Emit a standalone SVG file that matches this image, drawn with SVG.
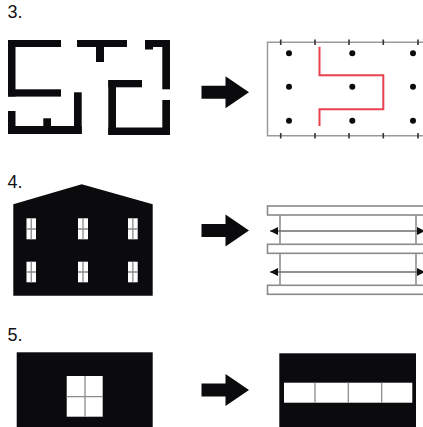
<svg xmlns="http://www.w3.org/2000/svg" width="423" height="427" viewBox="0 0 423 427">
  <style>
    .num { font-family: "Liberation Sans", Arial, sans-serif; font-size: 18px; fill: #111; }
    .ink { fill: #0b0a0c; }
    .grid { fill: none; stroke: #9a9a9a; stroke-width: 1.5; }
    .tick { stroke: #333; stroke-width: 1.6; }
    .dot { fill: #0b0a0c; }
    .route { fill: none; stroke: #e8404f; stroke-width: 2; }
    .slab { fill: #fff; stroke: #8a8a8a; stroke-width: 1.6; }
    .col { stroke: #777; stroke-width: 1.3; }
    .span { stroke: #6d6d6d; stroke-width: 1.6; }
    .pane { fill: #fff; }
    .bar { stroke: #8c8c8c; stroke-width: 1.3; }
  </style>
  <defs>
    <!-- block arrow, tip at origin -->
    <path id="blockArrow" d="M-47.5 -6.5 H-23.5 V-16 L0 0 L-23.5 16 V6.5 H-47.5 Z"/>
    <marker id="headEnd" viewBox="0 0 8 8" refX="8" refY="4" markerWidth="8" markerHeight="8" markerUnits="userSpaceOnUse" orient="auto">
      <path d="M0 0 L8 4 L0 8 Z" fill="#111"/>
    </marker>
    <marker id="headStart" viewBox="0 0 8 8" refX="0" refY="4" markerWidth="8" markerHeight="8" markerUnits="userSpaceOnUse" orient="auto">
      <path d="M8 0 L0 4 L8 8 Z" fill="#111"/>
    </marker>
  </defs>

  <!-- row 3: room layout to column grid -->
  <text class="num" x="7.5" y="18.3">3.</text>
  <g id="plan-walls" class="ink">
    <rect x="8" y="40" width="53" height="7"/>
    <rect x="8" y="40" width="7.5" height="56.5"/>
    <rect x="8" y="89.3" width="53" height="7.3"/>
    <rect x="8" y="111" width="7.5" height="23"/>
    <rect x="8" y="126" width="73.7" height="8"/>
    <rect x="43.3" y="118.3" width="7.7" height="8"/>
    <rect x="74" y="92.3" width="7.7" height="41.7"/>
    <rect x="77" y="40" width="50" height="7"/>
    <rect x="96" y="46" width="8" height="16"/>
    <rect x="145" y="40" width="25" height="7"/>
    <rect x="145" y="46" width="8" height="3.5"/>
    <rect x="162.3" y="40" width="7.7" height="49.3"/>
    <rect x="108.3" y="80" width="33.7" height="7.3"/>
    <rect x="108.3" y="80" width="7.7" height="55"/>
    <rect x="108.3" y="127.5" width="61.7" height="7.5"/>
    <rect x="162.3" y="100" width="7.7" height="35"/>
  </g>
  <g id="arrow-3" class="ink">
    <use href="#blockArrow" x="249" y="92.3"/>
  </g>
  <g id="column-grid">
    <path class="grid" d="M430 42.3 H267.5 V135.7 H430"/>
    <g class="tick">
      <path d="M280.7 39.5 V45 M315 39.5 V45 M349 39.5 V45 M383.3 39.5 V45 M418 39.5 V45"/>
      <path d="M280.7 133 V138.5 M315 133 V138.5 M349 133 V138.5 M383.3 133 V138.5 M418 133 V138.5"/>
    </g>
    <g class="dot">
      <circle cx="289" cy="53.3" r="3"/>
      <circle cx="352.3" cy="53.3" r="3"/>
      <circle cx="413" cy="53.3" r="3"/>
      <circle cx="289" cy="86.7" r="3"/>
      <circle cx="352.3" cy="86.7" r="3"/>
      <circle cx="413" cy="86.7" r="3"/>
      <circle cx="289" cy="120.7" r="3"/>
      <circle cx="352.3" cy="120.7" r="3"/>
      <circle cx="413" cy="120.7" r="3"/>
    </g>
    <path class="route" d="M319.5 46.7 V75.3 H383.3 V109.3 H319.5 V126"/>
  </g>

  <!-- row 4: gabled facade to stacked floors -->
  <text class="num" x="7.5" y="188.3">4.</text>
  <g id="facade">
    <path class="ink" d="M13.3 204.3 L81.7 184.3 L152.7 204.3 V295.7 H13.3 Z"/>
    <g class="pane">
      <rect x="26.5" y="218.3" width="9.5" height="21"/>
      <rect x="78" y="218.3" width="10" height="21"/>
      <rect x="128" y="218.3" width="9.7" height="21"/>
      <rect x="26.5" y="261.7" width="9.5" height="20.6"/>
      <rect x="78" y="261.7" width="10" height="20.6"/>
      <rect x="128" y="261.7" width="9.7" height="20.6"/>
    </g>
    <g class="bar">
      <path d="M31.25 218.3 V239.3 M26.5 229 H36 M83 218.3 V239.3 M78 229 H88 M132.85 218.3 V239.3 M128 229 H137.7"/>
      <path d="M31.25 261.7 V282.3 M26.5 272 H36 M83 261.7 V282.3 M78 272 H88 M132.85 261.7 V282.3 M128 272 H137.7"/>
    </g>
  </g>
  <g id="arrow-4" class="ink">
    <use href="#blockArrow" x="249" y="230.5"/>
  </g>
  <g id="floor-stack">
    <path class="col" d="M280 215 V244.3 M280 253.3 V285 M416 215 V244.3 M416 253.3 V285"/>
    <rect class="slab" x="267.5" y="206" width="170" height="9"/>
    <rect class="slab" x="267.5" y="244.3" width="170" height="9"/>
    <rect class="slab" x="267.5" y="285.3" width="170" height="9"/>
  </g>
  <g id="connectors">
    <line class="span" x1="270" y1="231" x2="425" y2="231" marker-start="url(#headStart)" marker-end="url(#headEnd)"/>
    <line class="span" x1="270" y1="272" x2="425" y2="272" marker-start="url(#headStart)" marker-end="url(#headEnd)"/>
  </g>

  <!-- row 5: single window to ribbon window -->
  <text class="num" x="7.5" y="340.7">5.</text>
  <g id="punched-wall">
    <rect class="ink" x="16.7" y="352.3" width="136" height="80"/>
    <rect class="pane" x="66.7" y="376" width="36" height="40.7"/>
    <path class="bar" d="M85 376 V416.7 M66.7 396.7 H102.7"/>
  </g>
  <g id="arrow-5" class="ink">
    <use href="#blockArrow" x="249" y="390"/>
  </g>
  <g id="ribbon-wall">
    <rect class="ink" x="279.3" y="353.3" width="136.7" height="80"/>
    <rect class="pane" x="284" y="382.7" width="128.3" height="20"/>
    <path class="bar" d="M315 382.7 V402.7 M348.3 382.7 V402.7 M381.7 382.7 V402.7"/>
  </g>
</svg>
